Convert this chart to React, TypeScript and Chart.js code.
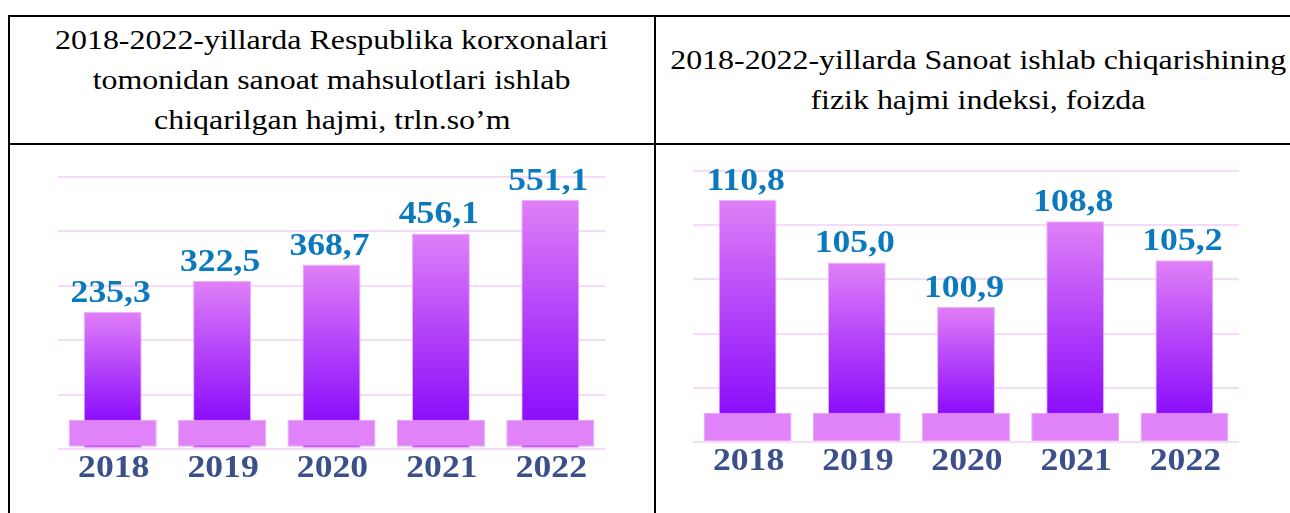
import React, { useEffect, useRef } from "react";
import { Chart, registerables } from "chart.js";

Chart.register(...registerables);

// ---------- data ----------
const years = ["2018", "2019", "2020", "2021", "2022"];

const leftValues = [235.3, 322.5, 368.7, 456.1, 551.1];
const leftGrid = [-150, 3, 156, 309, 462, 615];
const leftPedestal = [-144, -68];

const rightValues = [110.8, 105.0, 100.9, 108.8, 105.2];
const rightGrid = [88.4, 93.41, 98.42, 103.43, 108.44, 113.45];
const rightPedestal = [88.5, 91.1];

const leftTitle = [
  "2018-2022-yillarda Respublika korxonalari",
  "tomonidan sanoat mahsulotlari ishlab",
  "chiqarilgan hajmi, trln.so\u2019m",
];
const rightTitle = [
  "2018-2022-yillarda Sanoat ishlab chiqarishining",
  "fizik hajmi indeksi, foizda",
];

// ---------- helpers ----------
const fmt = (v: number) => v.toFixed(1).replace(".", ",");

function drawStretched(
  ctx: CanvasRenderingContext2D,
  text: string,
  x: number,
  y: number,
  font: string,
  color: string,
  sx: number
) {
  ctx.save();
  ctx.translate(x, y);
  ctx.scale(sx, 1);
  ctx.font = font;
  ctx.textAlign = "center";
  ctx.textBaseline = "alphabetic";
  ctx.fillStyle = color;
  ctx.fillText(text, 0, 0);
  ctx.restore();
}

const labelPlugin = {
  id: "barLabels",
  afterDatasetsDraw(chart: any, _args: any, opts: any) {
    const ctx = chart.ctx as CanvasRenderingContext2D;
    const meta = chart.getDatasetMeta(0);
    const vals: number[] = opts.values;
    meta.data.forEach((bar: any, i: number) => {
      drawStretched(
        ctx,
        fmt(vals[i]),
        bar.x - 2,
        bar.y - 10,
        "bold 31px 'Liberation Serif', 'Times New Roman', serif",
        "#0A79BE",
        1.15
      );
    });
    const xs = chart.scales.x;
    years.forEach((yr, i) => {
      drawStretched(
        ctx,
        yr,
        xs.getPixelForValue(i) + 1,
        chart.chartArea.bottom + opts.yearOffset,
        "bold 31px 'Liberation Serif', 'Times New Roman', serif",
        "#3B4F8A",
        1.15
      );
    });
  },
};

function makeChart(
  canvas: HTMLCanvasElement,
  values: number[],
  grid: number[],
  pedestal: number[],
  padding: { left: number; right: number; top: number; bottom: number },
  yearOffset: number
) {
  const yMin = grid[0];
  const yMax = grid[grid.length - 1];
  return new Chart(canvas, {
    type: "bar",
    data: {
      labels: years,
      datasets: [
        {
          data: values,
          base: yMin,
          order: 1,
          grouped: false,
          barPercentage: 0.53,
          categoryPercentage: 1,
          borderWidth: 1,
          borderColor: "rgba(236,168,250,0.9)",
          borderSkipped: false,
          backgroundColor: (c: any) => {
            const chart = c.chart;
            if (!chart.chartArea || c.type !== "data") return "#B040F8";
            const y = chart.scales.y;
            const top = y.getPixelForValue(values[c.dataIndex]);
            const bottom = y.getPixelForValue(pedestal[1]);
            const g = chart.ctx.createLinearGradient(0, top, 0, bottom);
            g.addColorStop(0, "#E080F7");
            g.addColorStop(0.5, "#B545F9");
            g.addColorStop(1, "#8C0EFB");
            return g;
          },
        } as any,
        {
          data: years.map(() => [pedestal[0], pedestal[1]]),
          order: 0,
          grouped: false,
          barPercentage: 0.805,
          categoryPercentage: 1,
          backgroundColor: "#E082F8",
          borderColor: "#E9A2F9",
          borderWidth: 1,
          borderSkipped: false,
        } as any,
      ],
    },
    options: {
      animation: false,
      responsive: false,
      maintainAspectRatio: false,
      events: [],
      layout: { padding },
      plugins: {
        legend: { display: false },
        tooltip: { enabled: false },
        barLabels: { values, yearOffset },
      } as any,
      scales: {
        x: {
          display: false,
          offset: true,
        },
        y: {
          min: yMin,
          max: yMax,
          afterBuildTicks: (scale: any) => {
            scale.ticks = grid.map((v) => ({ value: v }));
          },
          ticks: { display: false },
          border: { display: false },
          grid: { color: "#F5DAFA", lineWidth: 2, drawTicks: false },
        },
      },
    },
    plugins: [labelPlugin],
  });
}

function ChartCanvas(props: {
  left: number;
  width: number;
  values: number[];
  grid: number[];
  pedestal: number[];
  padding: { left: number; right: number; top: number; bottom: number };
  yearOffset: number;
}) {
  const ref = useRef<HTMLCanvasElement>(null);
  useEffect(() => {
    if (!ref.current) return;
    const ch = makeChart(
      ref.current,
      props.values,
      props.grid,
      props.pedestal,
      props.padding,
      props.yearOffset
    );
    return () => ch.destroy();
  }, []);
  return (
    <canvas
      ref={ref}
      width={props.width}
      height={368}
      style={{ position: "absolute", left: props.left, top: 145, width: props.width, height: 368 }}
    />
  );
}

const line = (style: React.CSSProperties) => (
  <div style={{ position: "absolute", background: "#000", ...style }} />
);

export default function App() {
  const headerStyle: React.CSSProperties = {
    position: "absolute",
    top: 17,
    height: 126,
    display: "flex",
    flexDirection: "column",
    alignItems: "center",
    justifyContent: "center",
    textAlign: "center",
    fontFamily: "'Liberation Serif', 'Times New Roman', serif",
    fontSize: 28,
    lineHeight: "40px",
    color: "#000",
    whiteSpace: "nowrap",
  };
  return (
    <div
      style={{
        position: "fixed",
        left: 0,
        top: 0,
        width: 1290,
        height: 513,
        background: "#fff",
        overflow: "hidden",
      }}
    >
      <div style={{ ...headerStyle, left: 10, width: 644 }}>
        {leftTitle.map((t) => (
          <div key={t} style={{ transform: "scaleX(1.14)" }}>{t}</div>
        ))}
      </div>
      <div style={{ ...headerStyle, left: 656, width: 644 }}>
        {rightTitle.map((t) => (
          <div key={t} style={{ transform: "scaleX(1.14)" }}>{t}</div>
        ))}
      </div>
      <ChartCanvas
        left={10}
        width={644}
        values={leftValues}
        grid={leftGrid}
        pedestal={leftPedestal}
        padding={{ left: 48, right: 49, top: 32, bottom: 64 }}
        yearOffset={28}
      />
      <ChartCanvas
        left={656}
        width={634}
        values={rightValues}
        grid={rightGrid}
        pedestal={rightPedestal}
        padding={{ left: 37, right: 51, top: 26, bottom: 71 }}
        yearOffset={28}
      />
      {line({ left: 8, top: 15, width: 1290, height: 2 })}
      {line({ left: 8, top: 143, width: 1290, height: 2 })}
      {line({ left: 8, top: 15, width: 2, height: 498 })}
      {line({ left: 654, top: 15, width: 2, height: 498 })}
    </div>
  );
}
